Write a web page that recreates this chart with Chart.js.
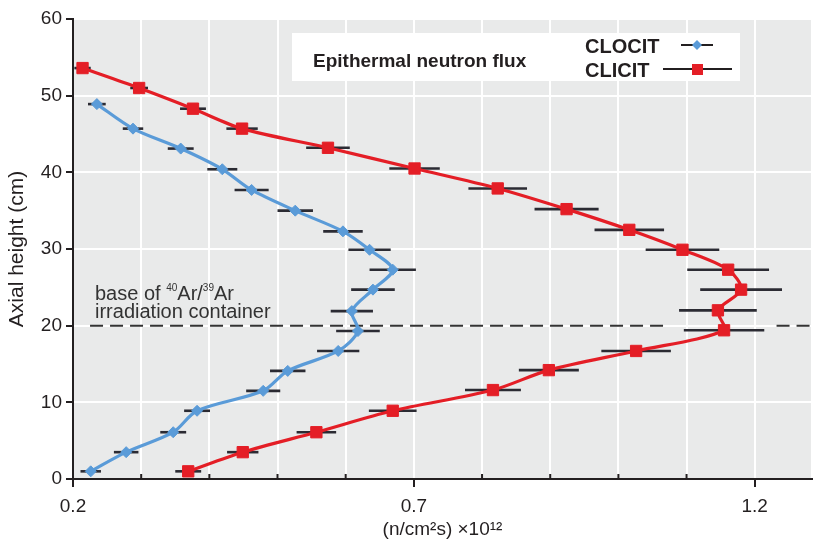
<!DOCTYPE html>
<html>
<head>
<meta charset="utf-8">
<script src="https://cdn.jsdelivr.net/npm/chart.js@4.4.1/dist/chart.umd.min.js"></script>
<style>
  html, body { margin: 0; padding: 0; background: #fff; overflow: hidden; }
  #caixa { width: 813px; height: 541px; position: relative; overflow: hidden; }
</style>
</head>
<body>
<!-- o Chart.js reserva ~9px a direita do grafico; o canvas e um pouco mais largo e a div corta o excesso -->
<div id="caixa"><canvas id="grafico" width="821" height="541"></canvas></div>
<script>
// CLOCIT (azul) - altura (cm), fluxo (x10^12), barra de erro
const clocitY = [48.9, 45.7, 43.1, 40.4, 37.7, 35.0, 32.3, 29.9, 27.3, 24.7, 21.9, 19.3, 16.7, 14.1, 11.5, 8.9, 6.1, 3.5, 1.0];
const clocitX = [0.235, 0.288, 0.358, 0.419, 0.462, 0.526, 0.596, 0.635, 0.669, 0.640, 0.609, 0.618, 0.589, 0.515, 0.479, 0.382, 0.347, 0.278, 0.226];
const clocitErr = [0.013, 0.015, 0.019, 0.022, 0.025, 0.026, 0.029, 0.031, 0.034, 0.032, 0.031, 0.032, 0.031, 0.026, 0.025, 0.019, 0.019, 0.018, 0.015];

// CLICIT (vermelho)
const clicitY = [53.6, 51.0, 48.3, 45.7, 43.2, 40.5, 37.9, 35.2, 32.5, 29.9, 27.3, 24.7, 22.0, 19.4, 16.7, 14.2, 11.6, 8.9, 6.1, 3.5, 1.0];
const clicitX = [0.214, 0.297, 0.376, 0.448, 0.574, 0.701, 0.823, 0.924, 1.016, 1.094, 1.161, 1.180, 1.146, 1.155, 1.026, 0.898, 0.816, 0.669, 0.557, 0.449, 0.369];
const clicitErr = [0.012, 0.013, 0.019, 0.023, 0.032, 0.037, 0.043, 0.047, 0.051, 0.054, 0.060, 0.060, 0.057, 0.059, 0.051, 0.044, 0.041, 0.035, 0.029, 0.023, 0.019];

// linha tracejada: base do container (com o corte perto da curva vermelha)
const baseAltura = 20;
const baseX = [0.225, 1.071, null, 1.232, 1.284];

// eixos
const xTicks = [0.2, 0.3, 0.4, 0.5, 0.6, 0.7, 0.8, 0.9, 1.0, 1.1, 1.2];
const xRotulos = [0.2, 0.7, 1.2];
const yTicks = [0, 10, 20, 30, 40, 50, 60];

const corTexto = '#231f20';
const fonte = "'Liberation Sans', Arial, Helvetica, sans-serif";
Chart.defaults.font.family = fonte;
Chart.defaults.color = corTexto;

const pontos = (xs, ys) => xs.map((x, i) => ({ x: x, y: ys[i] }));
const ehRotulo = v => xRotulos.some(r => Math.abs(r - v) < 1e-6);

// fundo cinza da area do grafico
const fundoPlot = {
  id: 'fundoPlot',
  beforeDraw(chart) {
    const { ctx, chartArea: a } = chart;
    ctx.save();
    ctx.fillStyle = '#e9eaea';
    ctx.fillRect(a.left, a.top, a.right - a.left, a.bottom - a.top);
    ctx.restore();
  }
};

// barras de erro horizontais + ticks menores do eixo x
const barrasErro = {
  id: 'barrasErro',
  beforeDatasetsDraw(chart) {
    const { ctx, chartArea: a } = chart;
    const xs = chart.scales.x, ys = chart.scales.y;
    ctx.save();
    ctx.strokeStyle = corTexto;
    ctx.lineWidth = 2;
    xTicks.forEach(v => {
      if (ehRotulo(v)) return;
      const px = xs.getPixelForValue(v);
      ctx.beginPath();
      ctx.moveTo(px, a.bottom);
      ctx.lineTo(px, a.bottom - 5);
      ctx.stroke();
    });
    ctx.strokeStyle = '#2b2b33';
    ctx.lineWidth = 2.6;
    chart.data.datasets.forEach(ds => {
      if (!ds.erros) return;
      ds.data.forEach((p, i) => {
        const py = ys.getPixelForValue(p.y);
        ctx.beginPath();
        ctx.moveTo(xs.getPixelForValue(p.x - ds.erros[i]), py);
        ctx.lineTo(xs.getPixelForValue(p.x + ds.erros[i]), py);
        ctx.stroke();
      });
    });
    ctx.restore();
  }
};

// caixa de legenda e texto da linha tracejada
function escreveComSobrescrito(ctx, partes, x, y) {
  partes.forEach(([t, sup]) => {
    ctx.font = sup ? `10px ${fonte}` : `20px ${fonte}`;
    ctx.fillText(t, x, sup ? y - 9 : y);
    x += ctx.measureText(t).width;
  });
}

const legendaTexto = {
  id: 'legendaTexto',
  afterDraw(chart) {
    const ctx = chart.ctx;
    ctx.save();
    ctx.fillStyle = '#ffffff';
    ctx.fillRect(292, 33, 448, 48);

    ctx.fillStyle = corTexto;
    ctx.textBaseline = 'middle';
    ctx.font = `bold 19px ${fonte}`;
    ctx.fillText('Epithermal neutron flux', 313, 62);
    ctx.font = `bold 20px ${fonte}`;
    ctx.fillText('CLOCIT', 585, 47);
    ctx.fillText('CLICIT', 585, 71);

    ctx.strokeStyle = corTexto;
    ctx.lineWidth = 2;
    ctx.beginPath();
    ctx.moveTo(681, 45); ctx.lineTo(713, 45);
    ctx.moveTo(663, 69); ctx.lineTo(732, 69);
    ctx.stroke();

    ctx.fillStyle = '#5a9bd8';
    ctx.beginPath();
    ctx.moveTo(697, 40); ctx.lineTo(702, 45); ctx.lineTo(697, 50); ctx.lineTo(692, 45);
    ctx.closePath();
    ctx.fill();
    ctx.fillStyle = '#e41e26';
    ctx.fillRect(692, 64, 11, 11);

    ctx.fillStyle = '#333333';
    ctx.textBaseline = 'alphabetic';
    escreveComSobrescrito(ctx, [['base of ', false], ['40', true], ['Ar/', false], ['39', true], ['Ar', false]], 95, 300);
    ctx.font = `20px ${fonte}`;
    ctx.fillText('irradiation container', 95, 318);
    ctx.restore();
  }
};

const ctx = document.getElementById('grafico').getContext('2d');
const chart = new Chart(ctx, {
  type: 'scatter',
  data: {
    datasets: [
      {
        label: 'CLICIT',
        data: pontos(clicitX, clicitY),
        erros: clicitErr,
        showLine: true,
        tension: 0.3,
        borderColor: '#e41e26',
        backgroundColor: '#e41e26',
        borderWidth: 3.2,
        pointStyle: 'rect',
        pointRadius: 8,
        pointBorderWidth: 1,
        order: 1
      },
      {
        label: 'CLOCIT',
        data: pontos(clocitX, clocitY),
        erros: clocitErr,
        showLine: true,
        tension: 0.3,
        borderColor: '#5a9bd8',
        backgroundColor: '#5a9bd8',
        borderWidth: 3.2,
        pointStyle: 'rectRot',
        pointRadius: 5.5,
        pointBorderWidth: 1,
        order: 2
      },
      {
        label: 'base',
        data: baseX.map(x => ({ x: x, y: x === null ? null : baseAltura })),
        showLine: true,
        spanGaps: false,
        borderColor: '#333333',
        borderWidth: 2,
        borderDash: [13, 7],
        pointRadius: 0,
        order: 3
      }
    ]
  },
  options: {
    responsive: false,
    animation: false,
    layout: { padding: { top: 19, right: 1, left: 0, bottom: 0 } },
    plugins: {
      legend: { display: false },
      tooltip: { enabled: false }
    },
    scales: {
      x: {
        type: 'linear',
        min: 0.2,
        max: 1.284,
        afterFit: s => { s.height = 62; s.paddingLeft = 0; s.paddingRight = 0; },
        afterBuildTicks: s => { s.ticks = xTicks.concat([s.max]).map(v => ({ value: v })); },
        ticks: {
          font: { size: 19 },
          color: corTexto,
          padding: 8,
          callback: v => ehRotulo(v) ? String(Math.round(v * 10) / 10) : ''
        },
        grid: {
          color: '#ffffff',
          lineWidth: 2,
          tickLength: 8,
          tickWidth: 2,
          tickColor: c => (c.tick && ehRotulo(c.tick.value)) ? corTexto : 'rgba(0,0,0,0)'
        },
        border: { color: corTexto, width: 2 },
        title: {
          display: true,
          text: '(n/cm²s) ×10¹²',
          font: { size: 19 },
          color: corTexto,
          padding: { top: 6, bottom: 0 }
        }
      },
      y: {
        min: 0,
        max: 60,
        afterFit: s => { s.width = 73; },
        afterBuildTicks: s => { s.ticks = yTicks.map(v => ({ value: v })); },
        ticks: {
          font: { size: 19 },
          color: corTexto,
          padding: 4
        },
        grid: {
          color: '#ffffff',
          lineWidth: 2,
          tickLength: 7,
          tickWidth: 2,
          tickColor: corTexto
        },
        border: { color: corTexto, width: 2 },
        title: {
          display: true,
          text: 'Axial height (cm)',
          font: { size: 21 },
          color: corTexto,
          padding: { top: 5, bottom: 0 }
        }
      }
    }
  },
  plugins: [fundoPlot, barrasErro, legendaTexto]
});
</script>
</body>
</html>
